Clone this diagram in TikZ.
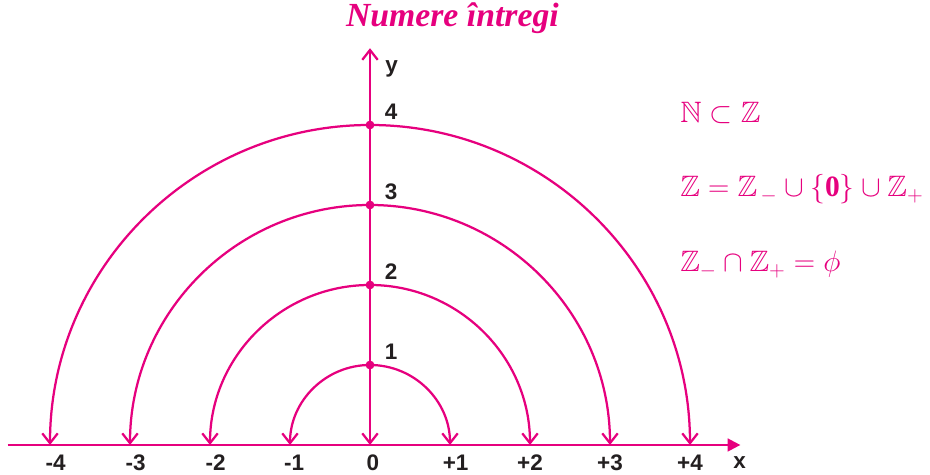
\RequirePackage{fix-cm}
\documentclass[tikz,border=0pt]{standalone}
\usepackage{amsmath, amssymb, bm}
\usepackage{fontspec}
\setmainfont{Liberation Serif}
\setsansfont{Liberation Sans}
\usepackage{xcolor}
\usepackage{tikz}
\usetikzlibrary{arrows.meta, positioning}
\definecolor{roz}{RGB}{230,0,126}
\definecolor{darktext}{RGB}{35,31,32}

\begin{document}
\begin{tikzpicture}[x=2cm, y=2cm, >={Straight Barb[length=7pt, width=11pt]}]
  \tikzstyle{axisline} = [draw=roz, line width=1.6pt]
  \tikzstyle{arcline} = [draw=roz, line width=1.6pt, <->]
  \tikzstyle{dot} = [circle, fill=roz, inner sep=0pt, minimum size=0.22cm]
  \tikzstyle{ticklabel} = [inner sep=0pt, text=darktext, font=\sffamily\bfseries\fontsize{16}{18}\selectfont]
  \tikzstyle{formula} = [anchor=base west, inner sep=0pt, text=roz, font=\fontsize{21}{24}\selectfont]

  \useasboundingbox (-4.625,-0.375) rectangle (7.0,5.5625);

  % axes
  \coordinate (o) at (0,0);
  \coordinate (xstart) at (-4.53,0);
  \coordinate (xend) at (4.63,0);
  \coordinate (yend) at (0,4.96);

  \coordinate (n4) at (-4,0);
  \coordinate (n3) at (-3,0);
  \coordinate (n2) at (-2,0);
  \coordinate (n1) at (-1,0);
  \coordinate (p1) at (1,0);
  \coordinate (p2) at (2,0);
  \coordinate (p3) at (3,0);
  \coordinate (p4) at (4,0);

  \draw[arcline] (n1) arc[start angle=180, end angle=0, radius=1];
  \draw[arcline] (n2) arc[start angle=180, end angle=0, radius=2];
  \draw[arcline] (n3) arc[start angle=180, end angle=0, radius=3];
  \draw[arcline] (n4) arc[start angle=180, end angle=0, radius=4];

  \draw[axisline, -{Triangle[length=9pt, width=9pt]}] (xstart) -- (xend);
  \draw[axisline, <->] (o) -- (yend);

  \node[dot] (d1) at (0,1) {};
  \node[dot] (d2) at (0,2) {};
  \node[dot] (d3) at (0,3) {};
  \node[dot] (d4) at (0,4) {};

  % labels on the axes
  \node[ticklabel, below=7pt of n4, xshift=4pt] (ln4) {-4};
  \node[ticklabel, below=7pt of n3, xshift=4pt] (ln3) {-3};
  \node[ticklabel, below=7pt of n2, xshift=4pt] (ln2) {-2};
  \node[ticklabel, below=7pt of n1, xshift=3pt] (ln1) {-1};
  \node[ticklabel, below=7pt of o, xshift=2pt] (lo) {0};
  \node[ticklabel, below=7pt of p1, xshift=4pt] (lp1) {+1};
  \node[ticklabel, below=7pt of p2] (lp2) {+2};
  \node[ticklabel, below=7pt of p3] (lp3) {+3};
  \node[ticklabel, below=7pt of p4] (lp4) {+4};

  \node[ticklabel, above right=1pt and 8pt of d1] (l1) {1};
  \node[ticklabel, above right=1pt and 8pt of d2] (l2) {2};
  \node[ticklabel, above right=1pt and 8pt of d3] (l3) {3};
  \node[ticklabel, above right=1pt and 8pt of d4] (l4) {4};

  \node[ticklabel, anchor=base west] (ylab) at (0.19,4.65) {y};
  \node[ticklabel, anchor=base west] (xlab) at (4.54,-0.29) {x};

  % title and formulas
  \node[text=roz, font=\bfseries\itshape\fontsize{24}{28}\selectfont] (title) at (1.03,5.33) {Numere întregi};

  \node[formula] (f1) at (3.875,4.025) {$\mathbb{N}\subset\mathbb{Z}$};
  \node[formula] (f2) at (3.875,3.104) {$\mathbb{Z}=\mathbb{Z}_{\,-}\cup\{\mathbf{0}\}\cup\mathbb{Z}_{+}$};
  \node[formula] (f3) at (3.875,2.166) {$\mathbb{Z}_{-}\cap\mathbb{Z}_{+}=\phi$};
\end{tikzpicture}
\end{document}
